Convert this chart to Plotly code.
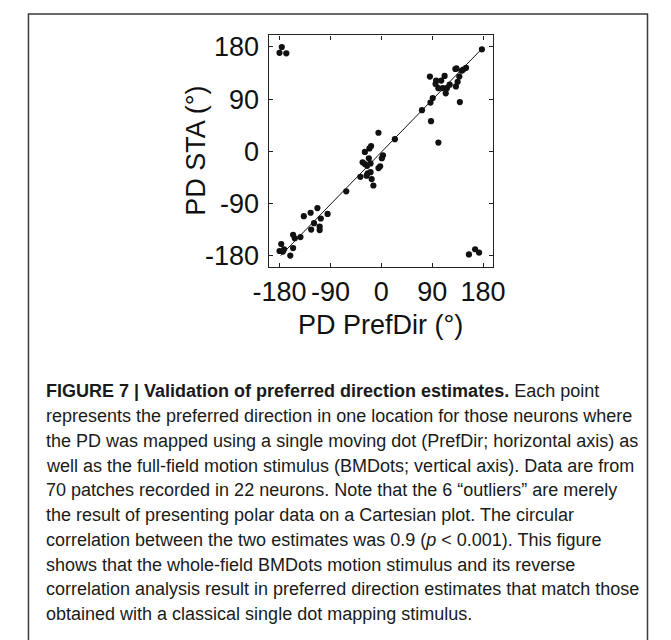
import plotly.graph_objects as go

# ---- data ----
pd_prefdir = [
    -176, -180, -168, 178,
    86, 97, 96, 106, 112, 101, 109, 114, 121, 131, 132, 135, 138, 142, 145, 150,
    87, 91, 88, 101, 72, 139, 116, 133,
    -29, -21, -18, -33, -29, -22, -19, -25, -37, -26, -24, -19, -17, -14,
    -5, 3, 1, -2, -5, -62, 24,
    -137, -125, -113, -119, -107, -95, -124, -109, -109, -156, -153, -143,
    -177, -180, -172, -174, -156, -161,
    155, 166, 173,
]
pd_sta = [
    180, 170, 169, 176,
    129, 122, 116, 122, 130, 109, 109, 100, 115, 142, 112, 120, 129, 139, 141, 144,
    84, 92, 52, 15, 71, 85, 109, 143,
    -1, 5, 9, -19, -22, -12, -21, -25, -44, -42, -38, -36, -48, -59,
    32, -7, -12, -26, -29, -69, 21,
    -112, -106, -98, -124, -116, -108, -135, -130, -136, -144, -150, -148,
    -160, -172, -169, -173, -167, -180,
    -178, -169, -175,
]
fit_x = [-178, 178]
fit_y = [-180, 177]

tick_vals = [-180, -90, 0, 90, 180]
tick_text = ["-180", "-90", "0", "90", "180"]

x_title = "PD PrefDir (°)"
y_title = "PD STA (°)"

caption_lines = [
    "<b>FIGURE 7 | Validation of preferred direction estimates.</b> Each point",
    "represents the preferred direction in one location for those neurons where",
    "the PD was mapped using a single moving dot (PrefDir; horizontal axis) as",
    "well as the full-field motion stimulus (BMDots; vertical axis). Data are from",
    "70 patches recorded in 22 neurons. Note that the 6 \u201coutliers\u201d are merely",
    "the result of presenting polar data on a Cartesian plot. The circular",
    "correlation between the two estimates was 0.9 (<i>p</i> < 0.001). This figure",
    "shows that the whole-field BMDots motion stimulus and its reverse",
    "correlation analysis result in preferred direction estimates that match those",
    "obtained with a classical single dot mapping stimulus.",
]

W, H = 671, 640
FONT = "Liberation Sans, Arial, Helvetica, sans-serif"

# plot-area geometry in pixels
px_l, px_r, px_t, px_b = 263.5, 498.0, 32.7, 267.0

fig = go.Figure()
fig.add_trace(go.Scatter(x=fit_x, y=fit_y, mode="lines",
                         line=dict(color="#111111", width=1), hoverinfo="skip",
                         showlegend=False))
fig.add_trace(go.Scatter(x=pd_prefdir, y=pd_sta, mode="markers",
                         marker=dict(color="#111111", size=6.2, line=dict(width=0)),
                         showlegend=False))

axis_common = dict(
    showgrid=False, zeroline=False, showline=True, linecolor="#222222", linewidth=1.3,
    mirror="ticks", ticks="inside", ticklen=4, tickwidth=1, tickcolor="#222222",
    tickvals=tick_vals, ticktext=tick_text,
    tickfont=dict(family=FONT, size=27, color="#111111"),
)

fig.update_layout(
    width=W, height=H,
    margin=dict(l=0, r=0, t=0, b=0),
    paper_bgcolor="white", plot_bgcolor="white",
    xaxis=dict(range=[-199.5, 198], domain=[px_l / W, px_r / W], **axis_common),
    yaxis=dict(range=[-200.5, 200], domain=[1 - px_b / H, 1 - px_t / H],
               ticklabelstandoff=3, **axis_common),
    font=dict(family=FONT, color="#111111"),
)

# axis titles
fig.add_annotation(text=x_title, xref="paper", yref="paper",
                   x=(px_l + px_r) / 2 / W, y=1 - 325 / H, xanchor="center", yanchor="middle",
                   showarrow=False, font=dict(family=FONT, size=27, color="#111111"))
fig.add_annotation(text=y_title, xref="paper", yref="paper", textangle=-90,
                   x=187 / W, y=1 - 149 / H, xanchor="center", yanchor="middle",
                   showarrow=False, font=dict(family=FONT, size=27, color="#111111"))

# caption
for i, line in enumerate(caption_lines):
    yc = 392 + 25 * i
    fig.add_annotation(text=line, xref="paper", yref="paper",
                       x=29 / W, y=1 - yc / H, xanchor="left", yanchor="middle",
                       showarrow=False, align="left",
                       font=dict(family=FONT, size=18, color="#1a1a1a"))

# outer frame
fig.add_shape(type="rect", xref="paper", yref="paper",
              x0=13 / W, x1=659 / W, y0=-0.05, y1=1 - 11 / H,
              line=dict(color="#3a3a3a", width=1.5), fillcolor="rgba(0,0,0,0)")

fig.write_html("out.html")
